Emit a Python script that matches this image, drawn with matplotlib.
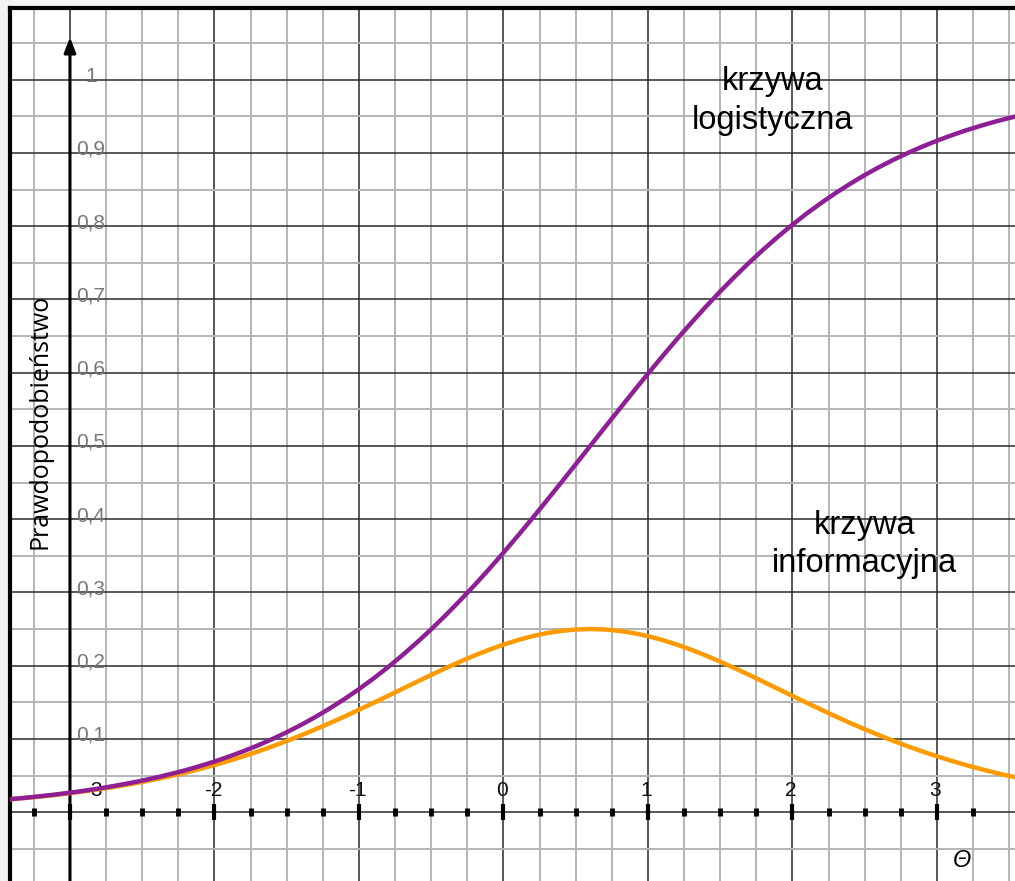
import numpy as np
import matplotlib
matplotlib.use("Agg")
import matplotlib.pyplot as plt

# theta grid (step 0.1) and curve values
theta = [-3.5, -3.4, -3.3, -3.2, -3.1, -3.0, -2.9, -2.8, -2.7, -2.6, -2.5, -2.4,
         -2.3, -2.2, -2.1, -2.0, -1.9, -1.8, -1.7, -1.6, -1.5, -1.4, -1.3, -1.2,
         -1.1, -1.0, -0.9, -0.8, -0.7, -0.6, -0.5, -0.4, -0.3, -0.2, -0.1, 0.0,
         0.1, 0.2, 0.3, 0.4, 0.5, 0.6, 0.7, 0.8, 0.9, 1.0, 1.1, 1.2,
         1.3, 1.4, 1.5, 1.6, 1.7, 1.8, 1.9, 2.0, 2.1, 2.2, 2.3, 2.4,
         2.5, 2.6, 2.7, 2.8, 2.9, 3.0, 3.1, 3.2, 3.3, 3.4, 3.5, 3.6]
logistic = [0.0163, 0.0180, 0.0198, 0.0219, 0.0241, 0.0266, 0.0293, 0.0323, 0.0356,
            0.0392, 0.0431, 0.0474, 0.0522, 0.0573, 0.0630, 0.0691, 0.0759, 0.0832,
            0.0911, 0.0998, 0.1091, 0.1192, 0.1301, 0.1419, 0.1545, 0.1680, 0.1824,
            0.1978, 0.2142, 0.2315, 0.2497, 0.2689, 0.2891, 0.3100, 0.3318, 0.3543,
            0.3775, 0.4013, 0.4256, 0.4502, 0.4750, 0.5000, 0.5250, 0.5498, 0.5744,
            0.5987, 0.6225, 0.6457, 0.6682, 0.6900, 0.7110, 0.7311, 0.7503, 0.7685,
            0.7858, 0.8022, 0.8176, 0.8320, 0.8455, 0.8581, 0.8699, 0.8808, 0.8909,
            0.9002, 0.9089, 0.9168, 0.9241, 0.9309, 0.9370, 0.9427, 0.9478, 0.9526]
information = [0.0160, 0.0177, 0.0195, 0.0214, 0.0235, 0.0259, 0.0285, 0.0313, 0.0343,
               0.0376, 0.0413, 0.0452, 0.0494, 0.0540, 0.0590, 0.0644, 0.0701, 0.0763,
               0.0828, 0.0898, 0.0972, 0.1050, 0.1132, 0.1217, 0.1306, 0.1398, 0.1492,
               0.1587, 0.1683, 0.1779, 0.1874, 0.1966, 0.2055, 0.2139, 0.2217, 0.2288,
               0.2350, 0.2403, 0.2445, 0.2475, 0.2494, 0.2500, 0.2494, 0.2475, 0.2445,
               0.2403, 0.2350, 0.2288, 0.2217, 0.2139, 0.2055, 0.1966, 0.1874, 0.1779,
               0.1683, 0.1587, 0.1492, 0.1398, 0.1306, 0.1217, 0.1132, 0.1050, 0.0972,
               0.0898, 0.0828, 0.0763, 0.0701, 0.0644, 0.0590, 0.0540, 0.0494, 0.0452]

x_ticks = [-3, -2, -1, 0, 1, 2, 3]
x_labels = ["-3", "-2", "-1", "0", "1", "2", "3"]
y_ticks = [0.1, 0.2, 0.3, 0.4, 0.5, 0.6, 0.7, 0.8, 0.9, 1.0]
y_labels = ["0,1", "0,2", "0,3", "0,4", "0,5", "0,6", "0,7", "0,8", "0,9", "1"]

XMIN, XMAX = -3.415, 3.54
YMIN, YMAX = -0.094, 1.098

fig = plt.figure(figsize=(10.15, 8.81), dpi=100, facecolor="#f3f3f3")
ax = fig.add_axes([10 / 1015, 0, 1 - 10 / 1015, (881 - 8) / 881])
ax.set_xlim(XMIN, XMAX)
ax.set_ylim(YMIN, YMAX)

# grid
for x in np.arange(-3.25, 3.6, 0.25):
    if abs(x - round(x)) < 1e-6:
        ax.axvline(x, color="#2a2a2a", lw=1.1, zorder=1)
    else:
        ax.axvline(x, color="#b4b4b4", lw=1.4, zorder=1)
for y in np.arange(-0.05, 1.1, 0.05):
    if abs(y * 10 - round(y * 10)) < 1e-6:
        ax.axhline(y, color="#2a2a2a", lw=1.1, zorder=1)
    else:
        ax.axhline(y, color="#b4b4b4", lw=1.4, zorder=1)

# axes with arrows
ax.annotate("", xy=(-3, 1.058), xytext=(-3, YMIN), zorder=3,
            arrowprops=dict(arrowstyle="-|>,head_length=0.9,head_width=0.35",
                            color="black", lw=2.2, shrinkA=0, shrinkB=0))
ax.annotate("", xy=(XMAX + 0.005, 0), xytext=(XMIN, 0), zorder=3,
            arrowprops=dict(arrowstyle="-|>,head_length=0.9,head_width=0.35",
                            color="black", lw=2.2, shrinkA=0, shrinkB=0))

# x-axis tick marks
minor = [x for x in np.arange(-3.25, 3.5, 0.25) if abs(x - round(x)) > 1e-6]
ax.plot(minor, np.zeros(len(minor)), ls="none", marker="|", ms=6, mew=3.5,
        color="black", zorder=4)
ax.plot(x_ticks, np.zeros(len(x_ticks)), ls="none", marker="|", ms=12, mew=3,
        color="black", zorder=4)

# curves
ax.plot(theta, information, color="#ff9a00", lw=3.2, zorder=5)
ax.plot(theta, logistic, color="#8e1f95", lw=3.2, zorder=6)

# tick labels
for x, lab in zip(x_ticks, x_labels):
    xx = x + 0.16 if x == -3 else x - 0.01
    ax.text(xx, 0.030, lab, ha="center", va="center", fontsize=15,
            color="#111111", family="Liberation Sans", zorder=2)
for y, lab in zip(y_ticks, y_labels):
    ax.text(-2.855, y + 0.005, lab, ha="center", va="center", fontsize=15,
            color="#777777", family="Liberation Sans", zorder=2)

ax.text(-3.207, 0.533, "Prawdopodobieństwo", rotation=90, ha="center", va="center",
        fontsize=18, family="Open Sans", color="black", zorder=7)
ax.text(1.86, 0.971, "krzywa\nlogistyczna", ha="center", va="center",
        fontsize=23.5, family="Liberation Sans", linespacing=1.3, zorder=7)
ax.text(2.5, 0.366, "krzywa\ninformacyjna", ha="center", va="center",
        fontsize=23.5, family="Liberation Sans", linespacing=1.3, zorder=7)
ax.text(3.17, -0.066, "Θ", ha="center", va="center", fontsize=17, style="italic",
        family="Liberation Sans", zorder=7)

ax.set_xticks([])
ax.set_yticks([])
ax.spines["right"].set_visible(False)
ax.spines["bottom"].set_visible(False)
ax.spines["left"].set_linewidth(3)
ax.spines["top"].set_linewidth(3)

fig.savefig("out.png", dpi=100, facecolor=fig.get_facecolor())
